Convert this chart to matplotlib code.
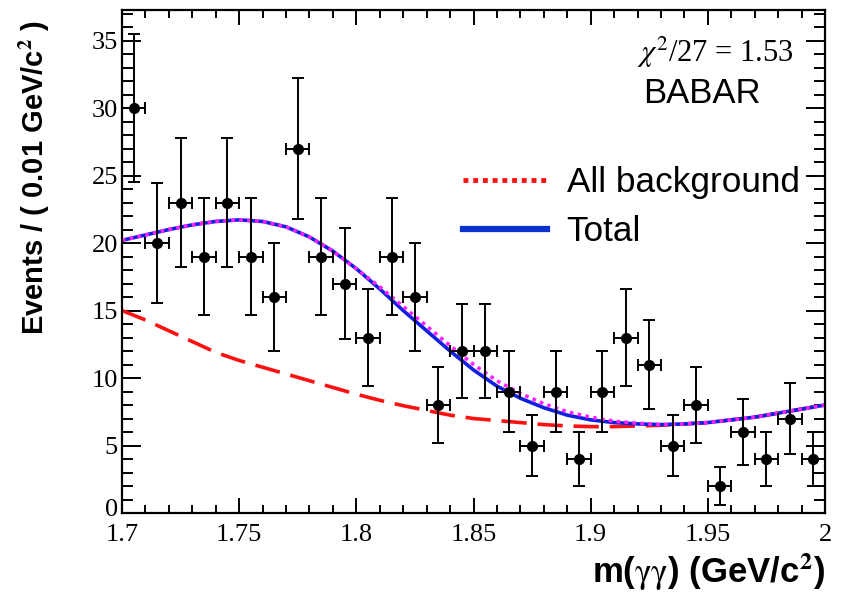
import matplotlib
matplotlib.use("Agg")
import matplotlib.pyplot as plt
import matplotlib.transforms as mtransforms
import numpy as np
from matplotlib.lines import Line2D

plt.rcParams['mathtext.fontset'] = 'stix'

# binned data, 0.01 GeV/c^2 bins
bin_centers = [1.705, 1.715, 1.725, 1.735, 1.745, 1.755, 1.765, 1.775, 1.785, 1.795,
               1.805, 1.815, 1.825, 1.835, 1.845, 1.855, 1.865, 1.875, 1.885, 1.895,
               1.905, 1.915, 1.925, 1.935, 1.945, 1.955, 1.965, 1.975, 1.985, 1.995]
counts = [30, 20, 23, 19, 23, 19, 16, 27, 19, 17,
          13, 19, 16, 8, 12, 12, 9, 5, 9, 4,
          9, 13, 11, 5, 8, 2, 6, 4, 7, 4]

# fit curves
fit_x = [1.70, 1.71, 1.72, 1.73, 1.74, 1.75, 1.76, 1.77, 1.78, 1.79,
         1.80, 1.81, 1.82, 1.83, 1.84, 1.85, 1.86, 1.87, 1.88, 1.89,
         1.90, 1.91, 1.92, 1.93, 1.94, 1.95, 1.96, 1.97, 1.98, 1.99, 2.00]
total = [20.2, 20.6, 21.0, 21.35, 21.6, 21.72, 21.6, 21.2, 20.45, 19.4,
         18.1, 16.6, 15.0, 13.5, 12.0, 10.6, 9.4, 8.5, 7.8, 7.25,
         6.9, 6.7, 6.6, 6.55, 6.6, 6.7, 6.9, 7.1, 7.4, 7.7, 8.0]
all_bkg = [20.2, 20.6, 21.0, 21.35, 21.6, 21.72, 21.6, 21.2, 20.45, 19.4,
           18.1, 16.75, 15.3, 13.85, 12.4, 11.0, 9.8, 8.85, 8.1, 7.5,
           7.1, 6.8, 6.65, 6.55, 6.6, 6.7, 6.9, 7.1, 7.4, 7.7, 8.0]
bkg_comp = [15.0, 14.3, 13.5, 12.7, 11.9, 11.3, 10.8, 10.3, 9.8, 9.3,
            8.8, 8.35, 7.95, 7.6, 7.25, 7.0, 6.85, 6.7, 6.55, 6.45,
            6.4, 6.4, 6.45, 6.5, 6.6, 6.7, 6.9, 7.1, 7.4, 7.7, 8.0]

fig = plt.figure(figsize=(8.48, 5.93), dpi=100)
ax = fig.add_axes([0.1439, 0.1349, 0.829, 0.849])

ax.plot(fit_x, bkg_comp, color='#ff1010', lw=2.6, dashes=(7, 3))
ax.plot(fit_x, total, color='#1020e0', lw=2.6)
ax.plot(fit_x, all_bkg, color='#ff20ff', lw=2.6, dashes=(1, 1.2))

yerr = np.sqrt(counts)
ax.errorbar(bin_centers, counts, yerr=yerr, xerr=0.005, fmt='o', color='black',
            ms=7, elinewidth=1.4, capsize=4, capthick=1.4, zorder=5)

ax.set_xlim(1.7, 2.0)
ax.set_ylim(0, 37.3)
ax.set_xticks([1.7, 1.75, 1.8, 1.85, 1.9, 1.95, 2.0])
ax.set_xticklabels(['1.7', '1.75', '1.8', '1.85', '1.9', '1.95', '2'])
ax.set_xticks(np.arange(1.70, 2.001, 0.01), minor=True)
ax.set_yticks(range(0, 36, 5))
ax.set_yticks(range(0, 38), minor=True)

for lab in ax.get_xticklabels() + ax.get_yticklabels():
    lab.set_fontfamily('Liberation Serif')
    lab.set_fontsize(19)

ax.tick_params(axis='x', which='major', direction='in', length=11, width=1.4, top=True, pad=8)
ax.tick_params(axis='x', which='minor', direction='in', length=6, width=1.4, top=True)
ax.tick_params(axis='y', which='major', direction='in', length=14, width=1.4, right=True, pad=3)
ax.tick_params(axis='y', which='minor', direction='in', length=8, width=1.4, right=True)
for sp in ax.spines.values():
    sp.set_linewidth(1.6)

# nudge the "0" label up a little so it does not sit on "1.7"
zero_lab = ax.get_yticklabels()[0]
zero_lab.set_transform(zero_lab.get_transform() +
                       mtransforms.ScaledTranslation(0, 4 / 72, fig.dpi_scale_trans))

ax.set_ylabel(r'Events / ( 0.01 GeV/c$^{\mathbf{2}}$ )', fontfamily='Liberation Sans',
              fontweight='bold', fontsize=21, loc='top')
ax.yaxis.set_label_coords(-0.10, 0.979)
ax.set_xlabel(r'm($\mathrm{\gamma\gamma}$) (GeV/c$^{\mathbf{2}}$)', fontfamily='Liberation Sans',
              fontweight='bold', fontsize=25, loc='right')
ax.xaxis.set_label_coords(1.0, -0.075)

ax.text(0.955, 0.915, r'$\chi^{2}$/27 = 1.53', transform=ax.transAxes, ha='right', va='center',
        fontsize=22, fontfamily='Liberation Serif')
ax.text(0.909, 0.834, 'BABAR', transform=ax.transAxes, ha='right', va='center',
        fontsize=25, fontfamily='Liberation Sans')

handles = [Line2D([], [], color='#ff1010', lw=3.5, dashes=(1, 1)),
           Line2D([], [], color='#0a30d0', lw=4.5)]
ax.legend(handles, ['All background', 'Total'], loc='upper left',
          bbox_to_anchor=(0.46, 0.724), frameon=False, handlelength=2.4,
          handletextpad=0.55, labelspacing=0.46, borderpad=0,
          prop={'family': 'Liberation Sans', 'size': 25.3})

fig.savefig('out.png', dpi=100)
